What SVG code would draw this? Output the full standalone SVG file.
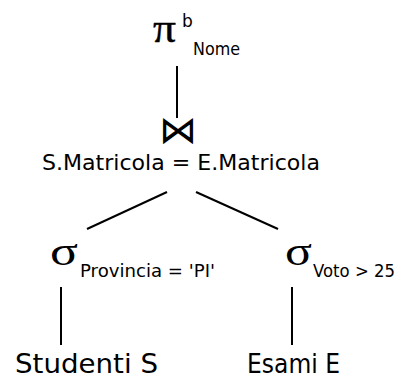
<svg xmlns="http://www.w3.org/2000/svg" width="404" height="378" viewBox="0 0 404 378">
<style>
.sym{font-family:"Liberation Serif","DejaVu Serif",serif;fill:#000}
.t{font-family:"DejaVu Sans","Liberation Sans",sans-serif;fill:#000}
.bt{font-family:"DejaVu Sans",sans-serif;font-weight:200;fill:#000}
.c line{stroke:#000;stroke-width:2}
</style>
<rect width="404" height="378" fill="#fff"/>
<g id="proj">
<text class="sym" x="153" y="42" font-size="40" textLength="23" lengthAdjust="spacingAndGlyphs" stroke="#000" stroke-width="0.4">π</text>
<text class="t" x="182" y="27" font-size="17">b</text>
<text class="t" x="193" y="55" font-size="17" textLength="47" lengthAdjust="spacingAndGlyphs">Nome</text>
</g>
<g id="join">
<text class="bt" x="178" y="143" font-size="38" text-anchor="middle">⋈</text>
<text class="t" x="42" y="170" font-size="22" textLength="278" lengthAdjust="spacingAndGlyphs">S.Matricola = E.Matricola</text>
</g>
<g id="selS">
<text class="sym" x="50" y="265" font-size="40" textLength="28" lengthAdjust="spacingAndGlyphs">σ</text>
<text class="t" x="80" y="277" font-size="17.5" textLength="135" lengthAdjust="spacingAndGlyphs">Provincia = 'PI'</text>
</g>
<g id="selE">
<text class="sym" x="285" y="265" font-size="40" textLength="27" lengthAdjust="spacingAndGlyphs">σ</text>
<text class="t" x="313" y="277" font-size="17" textLength="82" lengthAdjust="spacingAndGlyphs">Voto &gt; 25</text>
</g>
<g id="relS">
<text class="t" x="15" y="373" font-size="27" textLength="143" lengthAdjust="spacingAndGlyphs">Studenti S</text>
</g>
<g id="relE">
<text class="t" x="247" y="373" font-size="27" textLength="93" lengthAdjust="spacingAndGlyphs">Esami E</text>
</g>
<g class="c" id="connectors">
<line x1="177" y1="66" x2="177" y2="118"/>
<line x1="167" y1="192" x2="87" y2="229"/>
<line x1="196" y1="192" x2="278" y2="229"/>
<line x1="61" y1="287" x2="61" y2="345"/>
<line x1="292" y1="287" x2="292" y2="345"/>
</g>
</svg>
